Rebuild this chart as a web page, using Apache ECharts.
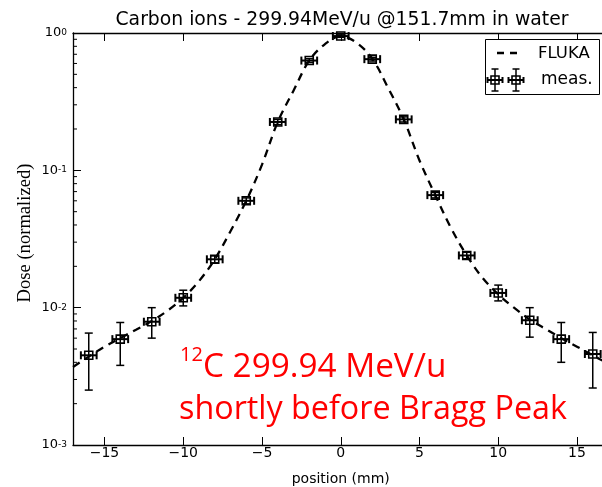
<!DOCTYPE html>
<html>
<head>
<meta charset="utf-8">
<script src="https://cdn.jsdelivr.net/npm/echarts@6/dist/echarts.min.js"></script>
<style>
html,body{margin:0;padding:0;background:#fff;}
#chart{width:602px;height:487px;}
</style>
</head>
<body>
<div id="chart"></div>
<script>
// ---- axis ranges and ticks ----
const xMin = -17, xMax = 17;
const yMin = 0.001, yMax = 1;
const xTickValues = [-15, -10, -5, 0, 5, 10, 15];
const xTickLabels = ['\u221215', '\u221210', '\u22125', '0', '5', '10', '15'];
const yTickValues = [0.001, 0.01, 0.1, 1];
const yTickExponents = ['-3', '-2', '-1', '0'];
const yMinorTicks = [0.002,0.003,0.004,0.005,0.006,0.007,0.008,0.009,
                     0.02,0.03,0.04,0.05,0.06,0.07,0.08,0.09,
                     0.2,0.3,0.4,0.5,0.6,0.7,0.8,0.9];

// ---- FLUKA simulation curve ----
const flukaX = [-17,-16,-15,-14,-13,-12,-11,-10,-9,-8,-7,-6,-5,-4,-3,-2,-1,0,1,2,3,4,5,6,7,8,9,10,11,12,13,14,15,16,17];
const flukaY = [0.0037,0.0044,0.0052,0.0060,0.0069,0.0080,0.0095,0.0118,0.0156,0.0225,0.036,0.060,0.110,0.225,0.38,0.63,0.83,0.95,0.85,0.65,0.40,0.235,0.118,0.066,0.038,0.0240,0.0165,0.0125,0.0100,0.0082,0.0070,0.0060,0.0052,0.0045,0.0039];

// ---- measurements ----
const measX    = [-16,-14,-12,-10,-8,-6,-4,-2,0,2,4,6,8,10,12,14,16];
const measY    = [0.0045,0.0059,0.0079,0.0118,0.0225,0.060,0.225,0.63,0.95,0.645,0.235,0.066,0.024,0.0128,0.0081,0.0059,0.0046];
const measYLo  = [0.00251,0.0038,0.0060,0.0103,0.0212,0.057,0.215,0.61,0.93,0.625,0.225,0.063,0.0227,0.0112,0.0061,0.0040,0.0026];
const measYHi  = [0.00653,0.0078,0.0100,0.0134,0.0238,0.063,0.235,0.65,0.97,0.665,0.245,0.069,0.0253,0.0146,0.0100,0.0078,0.0066];
const measXErr = [0.5,0.5,0.5,0.5,0.5,0.5,0.5,0.5,0.5,0.5,0.5,0.5,0.5,0.5,0.5,0.5,0.5];

const chart = echarts.init(document.getElementById('chart'), null, {renderer: 'canvas'});

const sansFont = 'DejaVu Sans';

function errorBarItem(params, api) {
  const x = api.value(0), y = api.value(1), lo = api.value(2), hi = api.value(3), xe = api.value(4);
  const c = api.coord([x, y]);
  const pLo = api.coord([x, lo]);
  const pHi = api.coord([x, hi]);
  const pL = api.coord([x - xe, y]);
  const pR = api.coord([x + xe, y]);
  const cap = 4, s = 4;
  const st = {stroke: '#000', lineWidth: 1.5, fill: null};
  const stH = {stroke: '#000', lineWidth: 2, fill: null};
  const line = (x1, y1, x2, y2, style) => ({type: 'line', shape: {x1, y1, x2, y2}, style: style || st});
  return {
    type: 'group',
    children: [
      line(pLo[0], pLo[1], pHi[0], pHi[1]),
      line(pLo[0] - cap, pLo[1], pLo[0] + cap, pLo[1]),
      line(pHi[0] - cap, pHi[1], pHi[0] + cap, pHi[1]),
      line(pL[0], pL[1], pR[0], pR[1], stH),
      line(pL[0], pL[1] - cap, pL[0], pL[1] + cap, stH),
      line(pR[0], pR[1] - cap, pR[0], pR[1] + cap, stH),
      {type: 'rect', shape: {x: c[0] - s, y: c[1] - s, width: 2 * s, height: 2 * s},
       style: {stroke: '#000', lineWidth: 1.6, fill: null}}
    ]
  };
}

function minorTickItem(params, api) {
  const p = api.coord([xMin, api.value(1)]);
  return {type: 'line', shape: {x1: p[0], y1: p[1], x2: p[0] + 4, y2: p[1]},
          style: {stroke: '#000', lineWidth: 1}};
}

function legendMarker(cx, cy) {
  const Z = 12;
  const L = (x1, y1, x2, y2, w) => ({type: 'line', z: Z, shape: {x1, y1, x2, y2}, style: {stroke: '#000', lineWidth: w}});
  return [
    L(cx, cy - 11, cx, cy + 11, 1.5),
    L(cx - 3.5, cy - 11, cx + 3.5, cy - 11, 1.5),
    L(cx - 3.5, cy + 11, cx + 3.5, cy + 11, 1.5),
    L(cx - 7.5, cy, cx + 7.5, cy, 2),
    L(cx - 7.5, cy - 3, cx - 7.5, cy + 3, 2),
    L(cx + 7.5, cy - 3, cx + 7.5, cy + 3, 2),
    {type: 'rect', z: Z, shape: {x: cx - 4, y: cy - 4, width: 8, height: 8}, style: {fill: null, stroke: '#000', lineWidth: 1.6}}
  ];
}

const option = {
  backgroundColor: '#fff',
  animation: false,
  title: {
    text: 'Carbon ions - 299.94MeV/u @151.7mm in water',
    left: 337, top: 6, textAlign: 'center',
    textStyle: {fontFamily: sansFont, fontSize: 18.8, fontWeight: 'normal', color: '#000'}
  },
  grid: {left: 73, top: 33, width: 535.5, height: 412, containLabel: false, outerBoundsMode: 'none'},
  xAxis: [{
    type: 'value', min: xMin, max: xMax,
    name: 'position (mm)', nameLocation: 'middle', nameGap: 27, nameMoveOverlap: false,
    nameTextStyle: {fontFamily: sansFont, fontSize: 14, color: '#000'},
    axisLine: {show: true, onZero: false, lineStyle: {color: '#000', width: 1.3}},
    axisTick: {show: true, inside: true, length: 8, customValues: xTickValues, lineStyle: {color: '#000', width: 1}},
    axisLabel: {show: true, customValues: xTickValues, margin: 1,
      fontFamily: sansFont, fontSize: 14, color: '#000',
      formatter: v => xTickLabels[xTickValues.indexOf(v)]},
    splitLine: {show: false}
  }, {
    type: 'value', min: xMin, max: xMax, position: 'top',
    axisLine: {show: true, onZero: false, lineStyle: {color: '#000', width: 1.3}},
    axisTick: {show: true, inside: true, length: 8, customValues: xTickValues, lineStyle: {color: '#000', width: 1}},
    axisLabel: {show: false},
    splitLine: {show: false}
  }],
  yAxis: [{
    type: 'log', logBase: 10, min: yMin, max: yMax,
    name: 'Dose (normalized)', nameLocation: 'middle', nameGap: 38, nameRotate: 90, nameMoveOverlap: false,
    nameTextStyle: {fontFamily: 'Liberation Serif', fontSize: 18.6, color: '#000', padding: [0, 0, 0, 12]},
    axisLine: {show: true, onZero: false, lineStyle: {color: '#000', width: 1.3}},
    axisTick: {show: true, inside: true, length: 8, customValues: yTickValues, lineStyle: {color: '#000', width: 1}},
    axisLabel: {show: true, customValues: yTickValues, margin: 6,
      formatter: v => {
        const i = yTickValues.findIndex(t => Math.abs(t - v) / t < 1e-6);
        return '{b|10}{sup|' + yTickExponents[i] + '}';
      },
      rich: {
        b: {fontFamily: sansFont, fontSize: 13, color: '#000', lineHeight: 15, padding: [6, 0, 6, 0]},
        sup: {fontFamily: sansFont, fontSize: 9, color: '#000', lineHeight: 10, padding: [2.5, 0, 0, 0], verticalAlign: 'top'}
      }
    },
    splitLine: {show: false}
  }],
  series: [
    {
      type: 'line', name: 'FLUKA', smooth: 0.35, symbol: 'none',
      data: flukaX.map((x, i) => [x, flukaY[i]]),
      lineStyle: {color: '#000', width: 2.3, type: [8, 6]},
      clip: true, z: 2
    },
    {
      type: 'custom', name: 'meas.', renderItem: errorBarItem,
      data: measX.map((x, i) => [x, measY[i], measYLo[i], measYHi[i], measXErr[i]]),
      encode: {x: 0, y: 1}, clip: false, z: 3
    },
    {
      type: 'custom', renderItem: minorTickItem, silent: true,
      data: yMinorTicks.map(v => [xMin, v]),
      encode: {x: 0, y: 1}, z: 4
    }
  ],
  graphic: [
    // legend box
    {type: 'rect', shape: {x: 485.5, y: 39.5, width: 114, height: 55},
     style: {fill: '#fff', stroke: '#000', lineWidth: 1}, z: 10},
    {type: 'line', shape: {x1: 497, y1: 53, x2: 519, y2: 53},
     style: {stroke: '#000', lineWidth: 2.3, lineDash: [7, 6]}, z: 11},
    {type: 'text', x: 538, y: 54, style: {text: 'FLUKA', fontFamily: sansFont, fontSize: 16.5, fill: '#000', verticalAlign: 'middle'}, z: 11},
    {type: 'text', x: 541, y: 80, style: {text: 'meas.', fontFamily: sansFont, fontSize: 17, fill: '#000', verticalAlign: 'middle'}, z: 11},
    ...legendMarker(495, 80),
    ...legendMarker(516, 80),
    // red annotation
    {type: 'text', x: 180, y: 345, style: {text: '12', fontFamily: 'Open Sans', fontSize: 20, fill: '#ff0000'}, z: 12},
    {type: 'text', x: 203, y: 351, style: {text: 'C 299.94 MeV/u', fontFamily: 'Open Sans', fontSize: 33.3, fill: '#ff0000'}, z: 12},
    {type: 'text', x: 179, y: 394, style: {text: 'shortly before Bragg Peak', fontFamily: 'Open Sans', fontSize: 32.3, fill: '#ff0000'}, z: 12}
  ]
};

chart.setOption(option);
</script>
</body>
</html>
